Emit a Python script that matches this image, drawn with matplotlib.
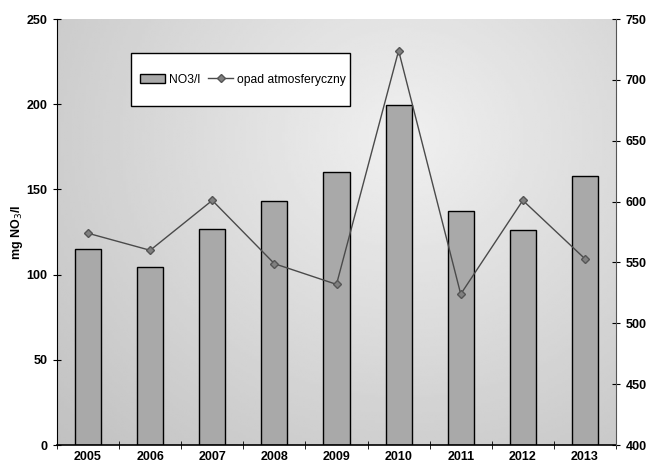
import numpy as np
import matplotlib
matplotlib.use("Agg")
import matplotlib.pyplot as plt
from matplotlib.patches import Rectangle

years = ["2005", "2006", "2007", "2008", "2009", "2010", "2011", "2012", "2013"]
no3 = [115.3, 104.5, 126.5, 143.0, 160.5, 199.5, 137.2, 126.4, 157.8]
opad = [574, 560, 601, 549, 532, 724, 524, 601, 553]

plt.rcParams['font.family'] = ['Liberation Sans', 'DejaVu Sans']

fig = plt.figure(figsize=(6.46, 4.68), dpi=100)
ax = fig.add_axes([0.0882, 0.049, 0.8654, 0.9104])
W, H = 646.0, 468.0

x = np.arange(len(years))

# background gradient
gx, gy = np.meshgrid(np.linspace(0, 1, 200), np.linspace(0, 1, 200))
r = np.sqrt(((gx - 0.62) / 0.75) ** 2 + ((gy - 0.72) / 0.9) ** 2)
bg = 0.94 - 0.16 * np.clip(r, 0, 1.2)
ax.imshow(bg, cmap='gray', vmin=0, vmax=1, extent=[-0.5, len(years) - 0.5, 0, 250],
          origin='lower', aspect='auto', zorder=0, interpolation='bilinear')

bars = ax.bar(x, no3, width=0.42, color='#a9a9a9', edgecolor='black', linewidth=1.0,
              zorder=2, label='NO3/l')
ax.set_xlim(-0.5, len(years) - 0.5)
ax.set_ylim(0, 250)
ax.set_yticks([0, 50, 100, 150, 200, 250])
ax.set_xticks(x)
ax.set_xticklabels(years)
fig.text(17 / W, 1 - 232 / H, 'mg NO$_3$/l', rotation=90, ha='center', va='center',
         fontsize=9, fontweight='bold')

ax2 = ax.twinx()
line, = ax2.plot(x, opad, color='#4a4a4a', linewidth=1.0, marker='D', markersize=4,
                 markerfacecolor='#808080', markeredgecolor='#555555', zorder=3,
                 label='opad atmosferyczny')
ax2.set_ylim(400, 750)
ax2.set_yticks([400, 450, 500, 550, 600, 650, 700, 750])

for a in (ax, ax2):
    for s in a.spines.values():
        s.set_visible(False)
ax.spines['left'].set_visible(True)
ax.spines['bottom'].set_visible(True)
ax2.spines['right'].set_visible(True)
ax.spines['left'].set_color('black')
ax.spines['bottom'].set_linewidth(1.2)
ax2.spines['right'].set_color('#555555')

ax.tick_params(axis='y', direction='inout', length=6, labelsize=9, pad=4)
ax.tick_params(axis='x', direction='inout', length=6, labelsize=9, pad=4)
ax2.tick_params(axis='y', direction='inout', length=6, labelsize=9, pad=4)
for lab in ax.get_xticklabels() + ax.get_yticklabels() + ax2.get_yticklabels():
    lab.set_fontweight('bold')
# x-ticks between categories
ax.set_xticks(np.arange(len(years) + 1) - 0.5, minor=True)
ax.tick_params(axis='x', which='major', length=0)
ax.tick_params(axis='x', which='minor', direction='inout', length=6)

# legend frame drawn separately
frame = Rectangle((131 / W, 1 - 106 / H), (350 - 131) / W, (106 - 53) / H,
                  transform=fig.transFigure, facecolor='white', edgecolor='black',
                  linewidth=1.0, zorder=5)
ax2.add_patch(frame)
frame.set_clip_on(False)
leg = ax2.legend([bars, line], ['NO3/l', 'opad atmosferyczny'], ncol=2,
                 loc='center', bbox_to_anchor=((131 + 350) / 2 / W + 0.004, 1 - 79.5 / H),
                 bbox_transform=fig.transFigure, frameon=False,
                 fontsize=8.7, borderpad=0.2, handlelength=2.1, columnspacing=0.6,
                 handletextpad=0.35)
leg.set_zorder(6)

fig.savefig('out.png', dpi=100)
